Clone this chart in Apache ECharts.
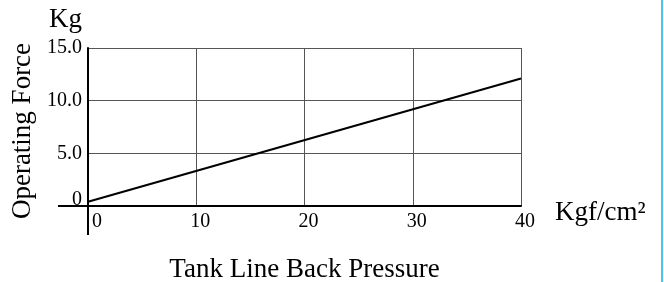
<!DOCTYPE html>
<html>
<head>
<meta charset="utf-8">
<script src="https://cdn.jsdelivr.net/npm/echarts@6/dist/echarts.min.js"></script>
<style>
  html, body { margin: 0; padding: 0; background: #fff; }
  #chart { width: 664px; height: 282px; }
</style>
</head>
<body>
<div id="chart"></div>
<script>
// pressure (Kgf/cm²) -> operating force (Kg)
const pressure = [0, 40]
const force = [0.4, 12.1]
const xTicks = [0, 10, 20, 30, 40]
const yTicks = [0, 5, 10, 15]

const font = 'Liberation Serif'
const chart = echarts.init(document.getElementById('chart'))

chart.setOption({
  animation: false,
  grid: { left: 88, right: 143, top: 48, bottom: 76, outerBoundsMode: 'none' },
  xAxis: [
    {
      type: 'value',
      min: xTicks[0],
      max: xTicks[xTicks.length - 1],
      interval: xTicks[1] - xTicks[0],
      name: 'Kgf/cm²',
      nameLocation: 'end',
      nameGap: 34,
      // unit sits slightly below the axis line
      nameTextStyle: { fontFamily: font, fontSize: 27, color: '#000', verticalAlign: 'top', lineHeight: 14 },
      axisLine: { lineStyle: { color: '#000', width: 2 } },
      axisTick: { show: false },
      axisLabel: {
        fontFamily: font,
        fontSize: 20,
        color: '#000',
        margin: 6,
        padding: [0, 0, 0, 8],
        // 0 is pushed off the vertical axis
        formatter: (v) => (v === 0 ? '{z|0}' : String(v)),
        rich: { z: { fontFamily: font, fontSize: 20, color: '#000', padding: [0, 0, 0, 10] } },
      },
      splitLine: { show: true, lineStyle: { color: '#555', width: 1 } },
    },
    {
      // only carries the bottom title
      type: 'value',
      position: 'bottom',
      min: xTicks[0],
      max: xTicks[xTicks.length - 1],
      name: 'Tank Line Back Pressure',
      nameLocation: 'middle',
      nameGap: 50,
      nameTextStyle: { fontFamily: font, fontSize: 27, color: '#000' },
      axisLine: { show: false },
      axisTick: { show: false },
      axisLabel: { show: false },
      splitLine: { show: false },
    },
  ],
  yAxis: [
    {
      type: 'value',
      min: yTicks[0],
      max: yTicks[yTicks.length - 1],
      interval: yTicks[1] - yTicks[0],
      name: 'Kg',
      nameLocation: 'end',
      nameGap: 15,
      nameTextStyle: { fontFamily: font, fontSize: 27, color: '#000', align: 'right', padding: [0, 6, 0, 0] },
      axisLine: { show: true, lineStyle: { color: '#000', width: 2 } },
      axisTick: { show: false },
      axisLabel: {
        fontFamily: font,
        fontSize: 20,
        color: '#000',
        margin: 6,
        // the 0 sits a bit above its line
        formatter: (v) => (v === 0 ? '{z|0}' : v.toFixed(1)),
        rich: { z: { fontFamily: font, fontSize: 20, color: '#000', padding: [0, 0, 12, 0] } },
      },
      splitLine: { show: true, lineStyle: { color: '#555', width: 1 } },
    },
    {
      type: 'value',
      position: 'left',
      min: yTicks[0],
      max: yTicks[yTicks.length - 1],
      name: 'Operating Force',
      nameLocation: 'middle',
      nameGap: 52,
      nameTextStyle: { fontFamily: font, fontSize: 27, color: '#000', padding: [0, 8, 0, 0] },
      axisLine: { show: false },
      axisTick: { show: false },
      axisLabel: { show: false },
      splitLine: { show: false },
    },
  ],
  series: [
    {
      type: 'line',
      xAxisIndex: 0,
      yAxisIndex: 0,
      data: pressure.map((p, i) => [p, force[i]]),
      symbol: 'none',
      lineStyle: { color: '#000', width: 2 },
    },
  ],
})

// axis lines run past the origin in the original drawing
const o = chart.convertToPixel({ xAxisIndex: 0, yAxisIndex: 0 }, [0, 0])
chart.setOption({
  graphic: [
    { type: 'line', shape: { x1: o[0], y1: o[1], x2: o[0], y2: o[1] + 29 }, style: { stroke: '#000', lineWidth: 2 }, z: 100 },
    { type: 'line', shape: { x1: o[0] - 30, y1: o[1], x2: o[0], y2: o[1] }, style: { stroke: '#000', lineWidth: 2 }, z: 100 },
    // cyan edge line on the right of the figure
    { type: 'line', shape: { x1: 662, y1: 0, x2: 662, y2: 282 }, style: { stroke: '#3ec8f2', lineWidth: 2 }, z: 100 },
  ],
})
</script>
</body>
</html>
